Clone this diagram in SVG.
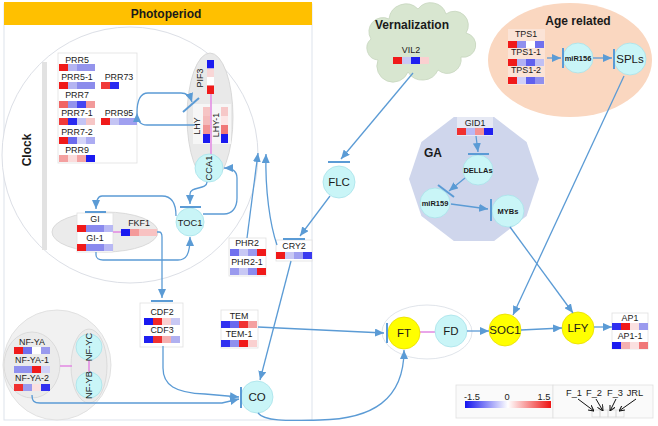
<svg xmlns="http://www.w3.org/2000/svg" width="658" height="426" viewBox="0 0 658 426">
<defs>
<style>
text{font-family:"Liberation Sans",Arial,sans-serif;fill:#1a1a1a;text-anchor:middle}
.g{font-size:8.9px}
.c{font-size:9.3px}
.cl{font-size:11.5px}
.sb{font-size:7.5px;font-weight:bold}
.t{font-size:12px;font-weight:bold}
.box{fill:#fff;stroke:#e0e0e0;stroke-width:0.8}
.cy{fill:#c9f5f7;stroke:#a8e2ea;stroke-width:0.8}
.ye{fill:#ffff00;stroke:#e8dc00;stroke-width:0.8}
.ln{fill:none;stroke:#5b9bd5;stroke-width:1.3}
.ar{fill:none;stroke:#5b9bd5;stroke-width:1.3;marker-end:url(#arr)}
.bar{stroke:#5b9bd5;stroke-width:2}
.pk{stroke:#e48ee4;stroke-width:1.6}
.ka{stroke:#111;stroke-width:1;marker-end:url(#arrk)}
</style>
<marker id="arr" markerUnits="userSpaceOnUse" markerWidth="9" markerHeight="8" refX="9" refY="4" orient="auto"><path d="M0,0 L9,4 L0,8 z" fill="#5b9bd5"/></marker>
<marker id="arrk" markerUnits="userSpaceOnUse" markerWidth="6" markerHeight="6" refX="6" refY="3" orient="auto"><path d="M0,0 L6,3 L0,6" fill="none" stroke="#111" stroke-width="1"/></marker>
<linearGradient id="grad" x1="0" x2="1" y1="0" y2="0"><stop offset="0" stop-color="#1414ee"/><stop offset="0.5" stop-color="#ffffff"/><stop offset="1" stop-color="#ee1414"/></linearGradient>
</defs>

<g id="photoperiod-panel">
<rect x="4" y="4" width="308" height="416" fill="#fff" stroke="#dde3ec" stroke-width="1"/>
<rect x="4" y="2" width="308" height="23" fill="#ffc000"/>
<text class="t" x="166" y="18">Photoperiod</text>
</g>

<g id="clock">
<circle cx="130" cy="155" r="128" fill="#fff" stroke="#dcdfe6" stroke-width="1"/>
<rect x="42" y="62" width="5" height="188" fill="#e2e2e2"/>
<text class="t" transform="rotate(-90 27 150)" x="27" y="154">Clock</text>
</g>

<g id="prr-box">
<rect class="box" x="58" y="53" width="79" height="110"/>
<text class="g" x="77" y="63">PRR5</text>
<rect x="59" y="64" width="9" height="7" fill="#f01a1a"/><rect x="68" y="64" width="9" height="7" fill="#b4b4f2"/><rect x="77" y="64" width="9" height="7" fill="#9494ec"/><rect x="86" y="64" width="9" height="7" fill="#9494ec"/>
<text class="g" x="77" y="80">PRR5-1</text>
<rect x="59" y="82" width="9" height="7" fill="#f01a1a"/><rect x="68" y="82" width="9" height="7" fill="#b4b4f2"/><rect x="77" y="82" width="9" height="7" fill="#8c8cec"/><rect x="86" y="82" width="9" height="7" fill="#8c8cec"/>
<text class="g" x="119" y="80">PRR73</text>
<rect x="101" y="82" width="9" height="7" fill="#f03a3a"/><rect x="110" y="82" width="9" height="7" fill="#2a2af0"/>
<text class="g" x="77" y="98">PRR7</text>
<rect x="59" y="101" width="9" height="7" fill="#f06464"/><rect x="68" y="101" width="9" height="7" fill="#9494ec"/><rect x="77" y="101" width="9" height="7" fill="#4646f0"/><rect x="86" y="101" width="9" height="7" fill="#f29a9a"/>
<text class="g" x="77" y="116">PRR7-1</text>
<rect x="59" y="118" width="9" height="7" fill="#f03a3a"/><rect x="68" y="118" width="9" height="7" fill="#2a2af0"/><rect x="77" y="118" width="9" height="7" fill="#c4c4f4"/><rect x="86" y="118" width="9" height="7" fill="#f6c6c6"/>
<text class="g" x="119" y="116">PRR95</text>
<rect x="101" y="118" width="9" height="7" fill="#f01a1a"/><rect x="110" y="118" width="9" height="7" fill="#c4c4f4"/><rect x="119" y="118" width="9" height="7" fill="#a0a0f0"/><rect x="128" y="118" width="9" height="7" fill="#a0a0f0"/>
<text class="g" x="77" y="135">PRR7-2</text>
<rect x="59" y="137" width="9" height="7" fill="#f01a1a"/><rect x="68" y="137" width="9" height="7" fill="#6a6aee"/><rect x="77" y="137" width="9" height="7" fill="#d4d4f8"/><rect x="86" y="137" width="9" height="7" fill="#acacf2"/>
<text class="g" x="77" y="153">PRR9</text>
<rect x="59" y="155" width="9" height="7" fill="#f4a0a0"/><rect x="68" y="155" width="9" height="7" fill="#fbdcdc"/><rect x="77" y="155" width="9" height="7" fill="#f4a4a4"/><rect x="86" y="155" width="9" height="7" fill="#1a1af0"/>
</g>

<g id="lhy-complex">
<ellipse cx="210" cy="117" rx="23" ry="64" fill="#e9e9e9" stroke="#d2d2d2" stroke-width="0.8"/>
<rect x="193" y="104" width="38" height="40" fill="#f6f6f6"/>
<line class="pk" x1="211" y1="94" x2="211" y2="156"/>
<rect x="207" y="60" width="7" height="8.5" fill="#1a1af0"/><rect x="207" y="68.5" width="7" height="8.5" fill="#f8d6d6"/><rect x="207" y="77" width="7" height="8.5" fill="#ffffff"/><rect x="207" y="85.5" width="7" height="8.5" fill="#f01a1a"/>
<text class="g" transform="rotate(-90 200 78)" x="200" y="81">PIF3</text>
<rect x="203" y="107" width="7" height="9" fill="#f6c4c4"/><rect x="203" y="116" width="7" height="9" fill="#f4baba"/><rect x="203" y="125" width="7" height="9" fill="#f09494"/><rect x="203" y="134" width="7" height="9" fill="#1a1af0"/>
<rect x="221" y="107" width="7" height="9" fill="#f6c8c8"/><rect x="221" y="116" width="7" height="9" fill="#fce6e6"/><rect x="221" y="125" width="7" height="9" fill="#f07878"/><rect x="221" y="134" width="7" height="9" fill="#1a1af0"/>
<text class="g" transform="rotate(-90 197 126)" x="197" y="129">LHY</text>
<text class="g" transform="rotate(-90 216 125)" x="216" y="128">LHY-1</text>
</g>

<g id="cca1">
<circle class="cy" cx="209" cy="168" r="14"/>
<text class="c" transform="rotate(-90 209 168)" x="209" y="171">CCA1</text>
</g>

<g id="toc1">
<circle class="cy" cx="190" cy="222" r="14"/>
<text class="c" x="190" y="225.5">TOC1</text>
</g>

<g id="gi-complex">
<ellipse cx="105" cy="232" rx="53" ry="20" fill="#ebebeb" stroke="#d4d4d4" stroke-width="0.8"/>
<rect class="box" x="77" y="213" width="36" height="39"/>
<text class="g" x="95" y="222">GI</text>
<rect x="77" y="225" width="9" height="7" fill="#f01a1a"/><rect x="86" y="225" width="9" height="7" fill="#8a8aee"/><rect x="95" y="225" width="9" height="7" fill="#8a8aee"/><rect x="104" y="225" width="9" height="7" fill="#b8b8f4"/>
<text class="g" x="95" y="241">GI-1</text>
<rect x="77" y="244" width="9" height="7" fill="#f01a1a"/><rect x="86" y="244" width="9" height="7" fill="#8a8aee"/><rect x="95" y="244" width="9" height="7" fill="#8a8aee"/><rect x="104" y="244" width="9" height="7" fill="#b8b8f4"/>
<line class="pk" x1="113" y1="232" x2="121" y2="232"/>
<text class="g" x="139" y="226">FKF1</text>
<rect x="121" y="229" width="9" height="7" fill="#1a1af0"/><rect x="130" y="229" width="9" height="7" fill="#f49a9a"/><rect x="139" y="229" width="9" height="7" fill="#f8c2c2"/><rect x="148" y="229" width="9" height="7" fill="#f8c2c2"/>
</g>

<g id="cdf">
<rect class="box" x="140" y="303" width="43" height="44"/>
<text class="g" x="162" y="315">CDF2</text>
<rect x="144" y="318" width="9" height="7" fill="#1a1af0"/><rect x="153" y="318" width="9" height="7" fill="#f02828"/><rect x="162" y="318" width="9" height="7" fill="#fad0d0"/><rect x="171" y="318" width="9" height="7" fill="#c8c8f4"/>
<text class="g" x="162" y="333">CDF3</text>
<rect x="144" y="336" width="9" height="7" fill="#2020f0"/><rect x="153" y="336" width="9" height="7" fill="#f03030"/><rect x="162" y="336" width="9" height="7" fill="#f4b0b0"/><rect x="171" y="336" width="9" height="7" fill="#b0b0f0"/>
</g>

<g id="phr2">
<rect class="box" x="229" y="238" width="37" height="38"/>
<text class="g" x="247" y="246">PHR2</text>
<rect x="230" y="249" width="9" height="7" fill="#7070ee"/><rect x="239" y="249" width="9" height="7" fill="#c8c8f4"/><rect x="248" y="249" width="9" height="7" fill="#9a9aee"/><rect x="257" y="249" width="9" height="7" fill="#f01a1a"/>
<text class="g" x="247" y="265">PHR2-1</text>
<rect x="230" y="268" width="9" height="7" fill="#9a9aee"/><rect x="239" y="268" width="9" height="7" fill="#c8c8f4"/><rect x="248" y="268" width="9" height="7" fill="#8c8cee"/><rect x="257" y="268" width="9" height="7" fill="#f01a1a"/>
</g>

<g id="cry2">
<rect class="box" x="276" y="240" width="36" height="21"/>
<text class="g" x="294" y="249">CRY2</text>
<rect x="276" y="252" width="9" height="7" fill="#f01a1a"/><rect x="285" y="252" width="9" height="7" fill="#c8c8f4"/><rect x="294" y="252" width="9" height="7" fill="#a0a0f0"/><rect x="303" y="252" width="9" height="7" fill="#3a3af0"/>
</g>

<g id="tem">
<rect class="box" x="221" y="310" width="37" height="38"/>
<text class="g" x="239" y="319">TEM</text>
<rect x="221" y="321" width="9" height="7" fill="#3030f0"/><rect x="230" y="321" width="9" height="7" fill="#6a6aee"/><rect x="239" y="321" width="9" height="7" fill="#f03030"/><rect x="248" y="321" width="9" height="7" fill="#f4a0a0"/>
<text class="g" x="239" y="337">TEM-1</text>
<rect x="221" y="340" width="9" height="7" fill="#3030f0"/><rect x="230" y="340" width="9" height="7" fill="#9090ee"/><rect x="239" y="340" width="9" height="7" fill="#f01a1a"/><rect x="248" y="340" width="9" height="7" fill="#fad0d0"/>
</g>

<g id="nfy-complex">
<ellipse cx="57" cy="365" rx="54" ry="55" fill="#f1f1f1" stroke="#dcdcdc" stroke-width="0.8"/>
<ellipse cx="32" cy="365" rx="28" ry="33" fill="#ebebeb" stroke="#d6d6d6" stroke-width="0.8"/>
<ellipse cx="89" cy="366" rx="18" ry="37" fill="#ebebeb" stroke="#d6d6d6" stroke-width="0.8"/>
<line class="pk" x1="60" y1="366" x2="72" y2="366"/>
<line class="pk" x1="89" y1="359" x2="89" y2="373"/>
<text class="g" x="32" y="345">NF-YA</text>
<rect x="14" y="347" width="9" height="7" fill="#f01a1a"/><rect x="23" y="347" width="9" height="7" fill="#7070ee"/><rect x="32" y="347" width="9" height="7" fill="#ffffff"/><rect x="41" y="347" width="9" height="7" fill="#9a9aee"/>
<text class="g" x="32" y="363">NF-YA-1</text>
<rect x="14" y="366" width="9" height="7" fill="#9090ee"/><rect x="23" y="366" width="9" height="7" fill="#9090ee"/><rect x="32" y="366" width="9" height="7" fill="#f01a1a"/><rect x="41" y="366" width="9" height="7" fill="#d0d0f8"/>
<text class="g" x="32" y="381">NF-YA-2</text>
<rect x="14" y="384" width="9" height="7" fill="#f03030"/><rect x="23" y="384" width="9" height="7" fill="#9a9aee"/><rect x="32" y="384" width="9" height="7" fill="#fbe0e0"/><rect x="41" y="384" width="9" height="7" fill="#3030f0"/>
</g>
<g id="nf-yc">
<circle class="cy" cx="89" cy="347" r="13"/>
<text class="c" transform="rotate(-90 89 347)" x="89" y="350">NF-YC</text>
</g>
<g id="nf-yb">
<circle class="cy" cx="89" cy="385" r="13"/>
<text class="c" transform="rotate(-90 89 385)" x="89" y="388">NF-YB</text>
</g>

<g id="co">
<circle class="cy" cx="257" cy="397" r="16"/>
<text class="cl" x="257" y="401">CO</text>
</g>

<g id="vernalization">
<path d="M378,60 A12,12 0 0 1 371,39 A14,14 0 0 1 389,19 A17,17 0 0 1 418,9 A16,16 0 0 1 446,14 A14,14 0 0 1 466,33 A12,12 0 0 1 461,57 A14,14 0 0 1 438,70 A17,17 0 0 1 408,72 A14,14 0 0 1 378,60 Z" fill="#d8e6d0" stroke="#c6d6be" stroke-width="0.8"/>
<text class="t" x="412" y="29">Vernalization</text>
<text class="g" x="411" y="53">VIL2</text>
<rect x="393" y="57" width="9" height="7" fill="#f01a1a"/><rect x="402" y="57" width="9" height="7" fill="#c8c8f4"/><rect x="411" y="57" width="9" height="7" fill="#2020f0"/><rect x="420" y="57" width="9" height="7" fill="#fad0d0"/>
</g>

<g id="flc">
<circle class="cy" cx="339" cy="182" r="16"/>
<text class="cl" x="339" y="186">FLC</text>
</g>

<g id="age-related">
<ellipse cx="570" cy="60" rx="82" ry="57" fill="#fad7c0"/>
<text class="t" x="578" y="25">Age related</text>
<rect x="508" y="29" width="37" height="56" fill="#fbe3d6"/>
<text class="g" x="526" y="37">TPS1</text>
<rect x="508" y="41" width="9" height="7" fill="#f01a1a"/><rect x="517" y="41" width="9" height="7" fill="#9090ee"/><rect x="526" y="41" width="9" height="7" fill="#ffffff"/><rect x="535" y="41" width="9" height="7" fill="#7070ee"/>
<text class="g" x="526" y="55">TPS1-1</text>
<rect x="508" y="59" width="9" height="7" fill="#f01a1a"/><rect x="517" y="59" width="9" height="7" fill="#b0b0f4"/><rect x="526" y="59" width="9" height="7" fill="#6060ee"/><rect x="535" y="59" width="9" height="7" fill="#c0c0f4"/>
<text class="g" x="526" y="73">TPS1-2</text>
<rect x="508" y="77" width="9" height="7" fill="#f01a1a"/><rect x="517" y="77" width="9" height="7" fill="#d0d0f8"/><rect x="526" y="77" width="9" height="7" fill="#6060ee"/><rect x="535" y="77" width="9" height="7" fill="#9090ee"/>
</g>
<g id="mir156">
<circle class="cy" cx="578" cy="58" r="15"/>
<text class="sb" x="578" y="61">miR156</text>
</g>
<g id="spls">
<circle class="cy" cx="630" cy="59" r="16"/>
<text class="cl" x="630" y="63">SPLs</text>
</g>

<g id="ga">
<polygon points="539,179 526.6,142 494.1,117 453.9,117 421.4,142 409,179 421.4,216 453.9,241 494.1,241 526.6,216" fill="#cfd6ec"/>
<text class="t" x="433" y="157">GA</text>
<rect x="457" y="117" width="36" height="19" fill="#e6e9f4"/>
<text class="g" x="475" y="126">GID1</text>
<rect x="457" y="128" width="9" height="7" fill="#f03030"/><rect x="466" y="128" width="9" height="7" fill="#b8b8f4"/><rect x="475" y="128" width="9" height="7" fill="#f49090"/><rect x="484" y="128" width="9" height="7" fill="#2020f0"/>
</g>
<g id="dellas">
<circle class="cy" cx="478" cy="170" r="15"/>
<text class="sb" x="478" y="173">DELLAs</text>
</g>
<g id="mir159">
<circle class="cy" cx="435" cy="203" r="15"/>
<text class="sb" x="435" y="206">miR159</text>
</g>
<g id="mybs">
<circle class="cy" cx="508" cy="211" r="16"/>
<text class="sb" x="508" y="214">MYBs</text>
</g>

<g id="ft-fd">
<ellipse cx="427" cy="332" rx="45" ry="27" fill="#fff" stroke="#d8dde4" stroke-width="0.8"/>
<line class="pk" x1="419" y1="332" x2="436" y2="332"/>
</g>
<g id="ft">
<circle class="ye" cx="404" cy="333" r="16"/>
<text class="cl" x="404" y="337">FT</text>
</g>
<g id="fd">
<circle class="cy" cx="451" cy="331" r="16"/>
<text class="cl" x="451" y="335">FD</text>
</g>
<g id="soc1">
<circle class="ye" cx="505" cy="330" r="16"/>
<text class="cl" x="505" y="334">SOC1</text>
</g>
<g id="lfy">
<circle class="ye" cx="578" cy="328" r="16"/>
<text class="cl" x="578" y="332">LFY</text>
</g>
<g id="ap1">
<rect class="box" x="612" y="313" width="36" height="36"/>
<text class="g" x="630" y="321">AP1</text>
<rect x="612" y="323" width="9" height="7" fill="#3030f0"/><rect x="621" y="323" width="9" height="7" fill="#f01a1a"/><rect x="630" y="323" width="9" height="7" fill="#fbe0e0"/><rect x="639" y="323" width="9" height="7" fill="#9a9aee"/>
<text class="g" x="630" y="339">AP1-1</text>
<rect x="612" y="342" width="9" height="7" fill="#1a1af0"/><rect x="621" y="342" width="9" height="7" fill="#f4b0b0"/><rect x="630" y="342" width="9" height="7" fill="#fbe0e0"/><rect x="639" y="342" width="9" height="7" fill="#f07878"/>
</g>

<g id="legend">
<rect x="456" y="385" width="97" height="33" fill="#fafafa" stroke="#e0e0e0" stroke-width="0.8"/>
<rect x="553" y="385" width="100" height="33" fill="#fafafa" stroke="#e0e0e0" stroke-width="0.8"/>
<rect x="465" y="401" width="86" height="7" fill="url(#grad)"/>
<text class="c" x="472" y="400">-1.5</text>
<text class="c" x="507" y="400">0</text>
<text class="c" x="544" y="400">1.5</text>
<text class="c" x="574" y="396">F_1</text>
<text class="c" x="594" y="396">F_2</text>
<text class="c" x="615" y="396">F_3</text>
<text class="c" x="635" y="396">JRL</text>
<g fill="none" stroke="#dcdcdc" stroke-width="0.8">
<rect x="592" y="410" width="8" height="7"/><rect x="600" y="410" width="8" height="7"/><rect x="608" y="410" width="8" height="7"/><rect x="616" y="410" width="8" height="7"/>
</g>
<line class="ka" x1="578" y1="399" x2="594" y2="411"/>
<line class="ka" x1="596" y1="399" x2="603" y2="411"/>
<line class="ka" x1="616" y1="399" x2="610" y2="411"/>
<line class="ka" x1="636" y1="399" x2="619" y2="411"/>
</g>

<g id="connectors">
<path class="ar" d="M195,125 L147,125 C141,125 137,121 137,113"/>
<path class="ar" d="M137,113 C137,100 140,93 148,93 L181,93 C187,93 190,96 192,102"/>
<line class="bar" x1="183" y1="112" x2="199" y2="98"/>
<path class="ar" d="M207,182 C207,190 190,186 190,194 L190,204"/>
<line class="bar" x1="180" y1="207" x2="201" y2="207"/>
<path class="ar" d="M203,214 L224,214 C232,214 237,208 237,198 L237,178 C237,171 233,168 224,168"/>
<path class="ar" d="M176,216 C176,203 172,196 162,196 L102,196 C98,196 96,199 96,209"/>
<line class="bar" x1="85" y1="212" x2="106" y2="212"/>
<path class="ar" d="M96,252 L96,255 C96,258 99,260 103,260 L178,260 C186,260 190,255 190,237"/>
<path class="ar" d="M157,232 L159,232 C161,232 162,234 162,237 L162,298"/>
<line class="bar" x1="151" y1="301" x2="173" y2="301"/>
<path class="ar" d="M247,238 L258,153"/>
<path class="ar" d="M277,245 C270,225 265,190 266,154"/>
<path class="ar" d="M413,73 L341,159"/>
<line class="bar" x1="328" y1="162" x2="350" y2="162"/>
<path class="ar" d="M330,196 L300,236"/>
<line class="bar" x1="283" y1="239" x2="305" y2="239"/>
<path class="ar" d="M291,261 L260,380"/>
<path class="ar" d="M163,346 L163,368 C163,385 175,393 205,394 L239,397"/>
<path class="ar" d="M32,395 C32,401 34,403 40,403 L222,403 L239,399"/>
<line class="bar" x1="241" y1="387" x2="241" y2="408"/>
<path class="ar" d="M258,327 L384,333"/>
<line class="bar" x1="387" y1="323" x2="387" y2="343"/>
<path class="ar" d="M258,413 C264,421 285,421 320,420 C372,419 404,400 404,350"/>
<path class="ar" d="M467,331 L489,331"/>
<path class="ar" d="M521,330 L562,328"/>
<path class="ar" d="M594,327 L612,327"/>
<path class="ar" d="M547,58 L561,58"/>
<line class="bar" x1="563" y1="48" x2="563" y2="68"/>
<path class="ar" d="M593,58 L612,58"/>
<line class="bar" x1="614" y1="49" x2="614" y2="69"/>
<path class="ar" d="M624,76 L513,315"/>
<path class="ar" d="M476,136 L478,152"/>
<line class="bar" x1="468" y1="154" x2="489" y2="154"/>
<path class="ar" d="M465,178 L449,191"/>
<line class="bar" x1="438" y1="185" x2="454" y2="197"/>
<path class="ar" d="M451,204 L488,209"/>
<line class="bar" x1="491" y1="199" x2="491" y2="221"/>
<path class="ar" d="M510,227 L573,313"/>
</g>
</svg>
